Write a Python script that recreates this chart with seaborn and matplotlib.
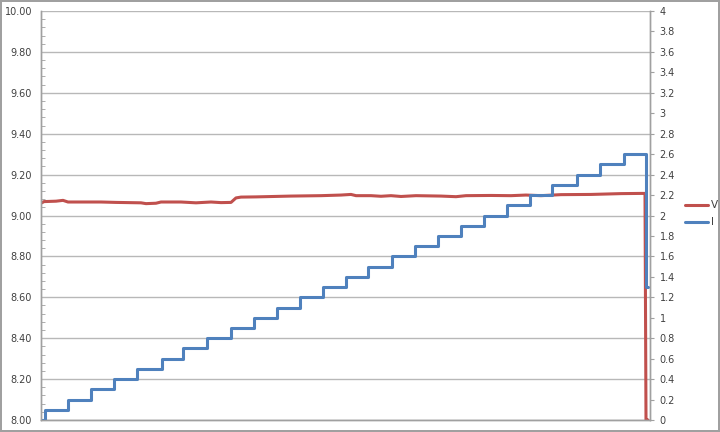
import matplotlib
matplotlib.use("Agg")
import matplotlib.pyplot as plt
import seaborn as sns
from matplotlib.ticker import MultipleLocator, FormatStrFormatter, FuncFormatter

# voltage samples (time, V)
v_time = [0, 3, 15, 22, 27, 60, 75, 100, 105, 115, 120, 140, 155, 170, 180, 190,
          195, 200, 215, 250, 280, 300, 310, 315, 330, 340, 350, 360, 375, 400,
          415, 425, 450, 470, 485, 500, 520, 550, 580, 600, 604, 605, 607]
v_vals = [9.060, 9.068, 9.070, 9.074, 9.066, 9.066, 9.064, 9.062, 9.058, 9.060,
          9.066, 9.066, 9.062, 9.066, 9.063, 9.064, 9.086, 9.090, 9.091, 9.095,
          9.097, 9.100, 9.103, 9.097, 9.097, 9.094, 9.097, 9.093, 9.097, 9.095,
          9.092, 9.097, 9.098, 9.097, 9.100, 9.097, 9.102, 9.103, 9.107, 9.108,
          9.108, 8.00, 8.00]

# current steps (time where level starts, level)
i_time = [0, 4, 27, 50, 73, 96, 121, 142, 166, 190, 213, 236, 259, 282, 305,
          327, 351, 374, 397, 420, 443, 466, 489, 511, 536, 559, 583, 605, 607]
i_vals = [0.0, 0.1, 0.2, 0.3, 0.4, 0.5, 0.6, 0.7, 0.8, 0.9, 1.0, 1.1, 1.2, 1.3,
          1.4, 1.5, 1.6, 1.7, 1.8, 1.9, 2.0, 2.1, 2.2, 2.3, 2.4, 2.5, 2.6, 1.3, 1.3]

sns.set_style("white")
red = "#C0504D"
blue = "#4F81BD"
grid_c = "#B8B8B8"
txt_c = "#404040"

fig = plt.figure(figsize=(7.2, 4.32), dpi=100)
fig.patch.set_edgecolor("#A0A0A0")
fig.patch.set_linewidth(1.5)
ax = fig.add_axes([41 / 720, 12 / 432, 609 / 720, 409 / 432])
ax2 = ax.twinx()

sns.lineplot(x=v_time, y=v_vals, ax=ax, color=red, linewidth=2.2, label="V", legend=False)
sns.lineplot(x=i_time, y=i_vals, ax=ax2, color=blue, linewidth=2.2, label="I",
             legend=False, drawstyle="steps-post")

ax.set_xlim(0, 609)
ax.set_ylim(8.0, 10.0)
ax2.set_ylim(0, 4)
ax.set_xticks([])
ax.set_xlabel("")
ax.set_ylabel("")
ax2.set_ylabel("")

ax.yaxis.set_major_locator(MultipleLocator(0.2))
ax.yaxis.set_minor_locator(MultipleLocator(0.04))
ax.yaxis.set_major_formatter(FormatStrFormatter("%.2f"))
ax.grid(axis="y", which="major", color=grid_c, linewidth=1)
ax.set_axisbelow(True)
ax.tick_params(axis="y", which="major", length=0, labelsize=7, labelcolor=txt_c, pad=6.5)
ax.tick_params(axis="y", which="minor", length=3, direction="in", color="#A0A0A0")

ax2.yaxis.set_major_locator(MultipleLocator(0.2))
ax2.yaxis.set_major_formatter(FuncFormatter(lambda v, p: f"{v:.1f}".rstrip("0").rstrip(".")))
ax2.tick_params(axis="y", which="major", length=3, direction="out", color="#A0A0A0",
                labelsize=7, labelcolor=txt_c, pad=4)

for a in (ax, ax2):
    for s in ("left", "right", "bottom"):
        a.spines[s].set_color("#A0A0A0")
        a.spines[s].set_linewidth(1)
    a.spines["top"].set_visible(False)

h1, l1 = ax.get_legend_handles_labels()
h2, l2 = ax2.get_legend_handles_labels()
fig.legend(h1 + h2, l1 + l2, loc="center left", bbox_to_anchor=(0.938, 0.505),
           frameon=False, fontsize=7.5, handlelength=2.2, handletextpad=0.3,
           labelspacing=0.7, labelcolor=txt_c)

fig.savefig("out.png", dpi=100, edgecolor=fig.get_edgecolor())
